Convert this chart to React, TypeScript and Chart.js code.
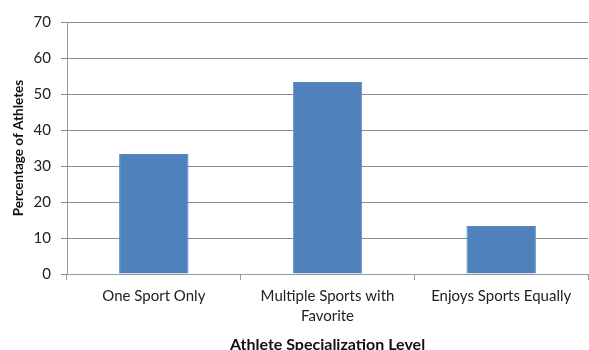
import React, { useEffect, useRef } from "react";
import { Chart, registerables } from "chart.js";

Chart.register(...registerables);

const categories: (string | string[])[] = [
  "One Sport Only",
  ["Multiple Sports with", "Favorite"],
  "Enjoys Sports Equally",
];
const percentages: number[] = [33.3, 53.3, 13.3];
const yTicks = { min: 0, max: 70, step: 10 };
const xTitle = "Athlete Specialization Level";
const yTitle = "Percentage of Athletes";

const H = 360;

export default function App() {
  const ref = useRef<HTMLCanvasElement | null>(null);
  useEffect(() => {
    if (!ref.current) return;
    const font = "Lato, 'Open Sans', sans-serif";
    const chart = new Chart(ref.current, {
      type: "bar",
      data: {
        labels: categories,
        datasets: [
          {
            data: percentages,
            backgroundColor: "#4F81BD",
            borderColor: "#5B8CC6",
            borderWidth: 1,
            categoryPercentage: 1,
            barPercentage: 0.4,
          },
        ],
      },
      options: {
        animation: false,
        responsive: false,
        maintainAspectRatio: false,
        layout: { padding: { top: 22, right: 1, left: 0, bottom: 0 } },
        plugins: { legend: { display: false }, tooltip: { enabled: false } },
        scales: {
          x: {
            afterFit: (s: any) => {
              s.height = H - 274;
            },
            grid: {
              drawOnChartArea: false,
              drawTicks: true,
              tickLength: 6,
              color: "#999",
              offset: true,
            },
            border: { color: "#999", width: 1 },
            ticks: {
              color: "#222",
              font: { family: font, size: 15, lineHeight: 1.33 },
              padding: 6,
              maxRotation: 0,
              autoSkip: false,
            },
            title: {
              display: true,
              text: xTitle,
              color: "#111",
              font: { family: font, size: 16, weight: "bold" },
              padding: { top: 0, bottom: 6 },
            },
          },
          y: {
            min: yTicks.min,
            max: yTicks.max,
            afterFit: (s: any) => {
              s.width = 67;
            },
            grid: { color: "#8c8c8c", tickLength: 6, lineWidth: 1 },
            border: { color: "#999", width: 1 },
            ticks: {
              stepSize: yTicks.step,
              color: "#222",
              font: { family: font, size: 15 },
              padding: 10,
            },
            title: {
              display: true,
              text: yTitle,
              color: "#111",
              font: { family: font, size: 13.5, weight: "bold" },
              padding: { top: 11, bottom: 0 },
            },
          },
        },
      },
    });
    return () => chart.destroy();
  }, []);
  return (
    <div style={{ position: "fixed", left: 0, top: 0, width: 589, height: H, background: "#fff" }}>
      <canvas ref={ref} width={589} height={H} style={{ display: "block", width: 589, height: H }} />
    </div>
  );
}
